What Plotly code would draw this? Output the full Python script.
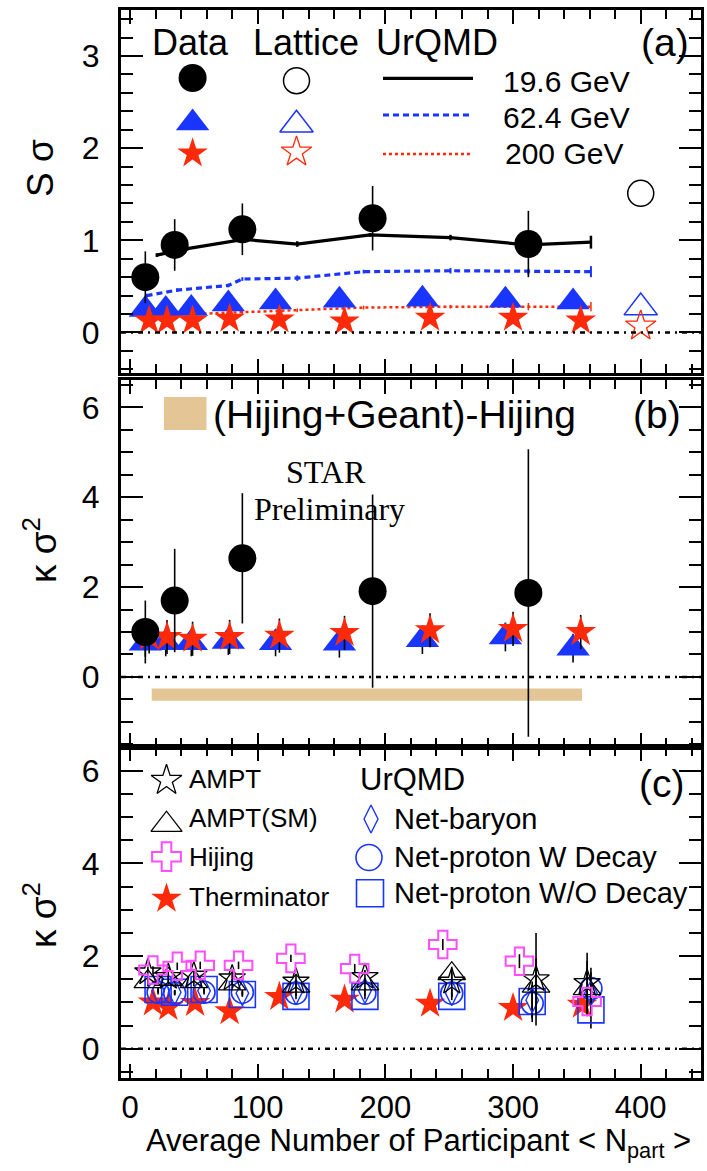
import plotly.graph_objects as go

# ======================= DATA =======================
# ---- Panel (a): S*sigma vs <Npart> ----
npart_196 = [12, 35, 88, 190, 312]
ssig_196 = [0.60, 0.95, 1.12, 1.24, 0.96]
ssig_196_err = [0.28, 0.28, 0.28, 0.35, 0.36]

npart_624 = [12, 28, 48, 77, 114, 164, 229, 294, 347]
ssig_624 = [0.25, 0.25, 0.26, 0.31, 0.33, 0.35, 0.36, 0.35, 0.33]
ssig_624_err = [0.04, 0.04, 0.04, 0.04, 0.04, 0.05, 0.05, 0.05, 0.05]

npart_200 = [15, 29, 49, 78, 117, 168, 235, 300, 353]
ssig_200 = [0.13, 0.13, 0.13, 0.15, 0.14, 0.12, 0.16, 0.16, 0.13]
ssig_200_err = [0.03, 0.03, 0.03, 0.03, 0.03, 0.04, 0.04, 0.04, 0.04]

lattice_npart = [400]
lattice_ssig_196 = [1.51]
lattice_ssig_624 = [0.27]
lattice_ssig_200 = [0.07]

urqmd_196_x = [21, 45, 89, 131, 188, 251, 312, 361]
urqmd_196_y = [0.84, 0.91, 1.01, 0.96, 1.06, 1.03, 0.95, 0.98]
urqmd_196_err = [0.02, 0.02, 0.02, 0.03, 0.02, 0.03, 0.02, 0.07]
urqmd_624_x = [13, 37, 77, 88, 131, 183, 251, 312, 361]
urqmd_624_y = [0.40, 0.46, 0.51, 0.58, 0.59, 0.66, 0.67, 0.66, 0.66]
urqmd_624_err = [0.02, 0.02, 0.02, 0.02, 0.03, 0.02, 0.03, 0.03, 0.06]
urqmd_200_x = [20, 49, 88, 131, 183, 251, 312, 361]
urqmd_200_y = [0.20, 0.20, 0.22, 0.24, 0.27, 0.28, 0.28, 0.28]
urqmd_200_err = [0.02, 0.02, 0.02, 0.02, 0.02, 0.02, 0.04, 0.05]

# ---- Panel (b): kappa*sigma^2 data ----
ksig_196 = [1.00, 1.70, 2.64, 1.91, 1.87]
ksig_196_err = [0.70, 1.15, 1.45, 2.15, 3.20]
ksig_624 = [0.75, 0.76, 0.76, 0.79, 0.76, 0.75, 0.83, 0.89, 0.64]
ksig_624_err = [0.30, 0.30, 0.30, 0.30, 0.30, 0.32, 0.32, 0.32, 0.32]
ksig_200 = [0.90, 0.89, 0.85, 0.89, 0.92, 0.98, 1.04, 1.07, 1.00]
ksig_200_err = [0.38, 0.38, 0.38, 0.38, 0.38, 0.38, 0.38, 0.38, 0.38]

geant_band_x = [17, 354]
geant_band_lo = [-0.53, -0.53]
geant_band_hi = [-0.26, -0.26]

# ---- Panel (c): models kappa*sigma^2 ----
therm_x = [18, 30, 51, 78, 117, 168, 235, 300, 354]
therm_y = [1.00, 0.90, 0.99, 0.81, 1.12, 1.06, 0.97, 0.88, 0.95]

hijing_x = [18, 37, 55, 85, 126, 176, 245, 305, 358]
hijing_y = [1.70, 1.78, 1.80, 1.80, 1.95, 1.73, 2.25, 1.89, 1.02]
hijing_err = [0.08, 0.08, 0.08, 0.08, 0.08, 0.10, 0.12, 0.15, 0.15]

ampt_x = [14, 30, 50, 80, 130, 184, 252, 318, 358]
ampt_y = [1.65, 1.55, 1.58, 1.52, 1.45, 1.55, 1.45, 1.50, 1.42]
ampt_err = [0.12, 0.12, 0.12, 0.12, 0.15, 0.15, 0.20, 1.00, 0.65]

amptsm_x = [14, 30, 50, 80, 130, 184, 252, 318, 358]
amptsm_y = [1.45, 1.50, 1.45, 1.40, 1.35, 1.40, 1.62, 1.35, 1.30]
amptsm_err = [0.10, 0.10, 0.10, 0.10, 0.12, 0.12, 0.15, 0.60, 0.60]

urqmd_c_x = [22, 35, 58, 88, 130, 184, 252, 315, 361]
netp_wo_y = [1.28, 1.22, 1.28, 1.17, 1.13, 1.13, 1.13, 1.02, 0.84]
netp_wo_err = [0.05, 0.05, 0.05, 0.05, 0.06, 0.06, 0.08, 0.35, 0.40]
netp_w_y = [1.22, 1.20, 1.22, 1.22, 1.20, 1.20, 1.20, 0.98, 1.30]
netp_w_err = [0.05, 0.05, 0.05, 0.05, 0.06, 0.06, 0.08, 0.40, 0.45]
netb_y = [1.25, 1.22, 1.25, 1.20, 1.22, 1.25, 1.20, 1.05, 1.20]
netb_err = [0.05, 0.05, 0.05, 0.05, 0.06, 0.06, 0.08, 0.40, 0.45]

xtick_vals = [0, 100, 200, 300, 400]

# ======================= STYLE =======================
BLACK = "#000000"
BLUE = "#1a35ff"
RED = "#ff2a0a"
MAGENTA = "#ff4dff"
TAN = "#e3c596"
FONT = "Liberation Sans, Arial, sans-serif"
SERIF = "Liberation Serif, Times New Roman, serif"

W, H = 707, 1171
ML, MR, MT, MB = 121, 6, 10, 93
PW, PH = W - ML - MR, H - MT - MB

dom_a = [0.6601, 1.0]
dom_b = [0.3099, 0.6536]
dom_c = [0.0, 0.3099]
xrange_all = [-7.05, 447.2]

fig = go.Figure()


def err(vals, color=BLACK, thick=1.6):
    return dict(type="data", array=vals, visible=True, thickness=thick, width=0, color=color)


# ---------- Panel (a) ----------
ax_a = dict(xaxis="x3", yaxis="y3")
fig.add_trace(go.Scatter(x=urqmd_200_x, y=urqmd_200_y, mode="lines",
                         line=dict(color=RED, width=2.5, dash="dot"),
                         error_y=err(urqmd_200_err, RED, 1.5), **ax_a))
fig.add_trace(go.Scatter(x=urqmd_624_x, y=urqmd_624_y, mode="lines",
                         line=dict(color=BLUE, width=3.2, dash="6px,4px"),
                         error_y=err(urqmd_624_err, BLUE, 2), **ax_a))
fig.add_trace(go.Scatter(x=urqmd_196_x, y=urqmd_196_y, mode="lines",
                         line=dict(color=BLACK, width=3.2),
                         error_y=err(urqmd_196_err, BLACK, 2.5), **ax_a))
fig.add_trace(go.Scatter(x=npart_624, y=ssig_624, mode="markers",
                         marker=dict(symbol="triangle-up", size=29, color=BLUE),
                         error_y=err(ssig_624_err), **ax_a))
fig.add_trace(go.Scatter(x=npart_200, y=ssig_200, mode="markers",
                         marker=dict(symbol="star", size=23, color=RED),
                         error_y=err(ssig_200_err), **ax_a))
fig.add_trace(go.Scatter(x=npart_196, y=ssig_196, mode="markers",
                         marker=dict(symbol="circle", size=28, color=BLACK),
                         error_y=err(ssig_196_err), **ax_a))
fig.add_trace(go.Scatter(x=lattice_npart, y=lattice_ssig_196, mode="markers",
                         marker=dict(symbol="circle-open", size=26, color=BLACK, line=dict(width=1.5)), **ax_a))
fig.add_trace(go.Scatter(x=lattice_npart, y=lattice_ssig_624, mode="markers",
                         marker=dict(symbol="triangle-up-open", size=29, color=BLUE, line=dict(width=1.5)), **ax_a))
fig.add_trace(go.Scatter(x=lattice_npart, y=lattice_ssig_200, mode="markers",
                         marker=dict(symbol="star-open", size=23, color=RED, line=dict(width=1.3)), **ax_a))

# ---------- Panel (b) ----------
ax_b = dict(xaxis="x2", yaxis="y2")
fig.add_trace(go.Scatter(x=geant_band_x, y=geant_band_lo, mode="lines",
                         line=dict(width=0, color=TAN), **ax_b))
fig.add_trace(go.Scatter(x=geant_band_x, y=geant_band_hi, mode="lines", fill="tonexty",
                         fillcolor=TAN, line=dict(width=0, color=TAN), **ax_b))
fig.add_trace(go.Scatter(x=npart_624, y=ksig_624, mode="markers",
                         marker=dict(symbol="triangle-up", size=29, color=BLUE),
                         error_y=err(ksig_624_err), **ax_b))
fig.add_trace(go.Scatter(x=npart_200, y=ksig_200, mode="markers",
                         marker=dict(symbol="star", size=23, color=RED),
                         error_y=err(ksig_200_err), **ax_b))
fig.add_trace(go.Scatter(x=npart_196, y=ksig_196, mode="markers",
                         marker=dict(symbol="circle", size=28, color=BLACK),
                         error_y=err(ksig_196_err), **ax_b))

# ---------- Panel (c) ----------
ax_c = dict(xaxis="x", yaxis="y")
fig.add_trace(go.Scatter(x=therm_x, y=therm_y, mode="markers",
                         marker=dict(symbol="star", size=23, color=RED), **ax_c))
fig.add_trace(go.Scatter(x=urqmd_c_x, y=netp_wo_y, mode="markers",
                         marker=dict(symbol="square-open", size=26, color=BLUE, line=dict(width=1.6)),
                         error_y=err(netp_wo_err), **ax_c))
fig.add_trace(go.Scatter(x=urqmd_c_x, y=netp_w_y, mode="markers",
                         marker=dict(symbol="circle-open", size=22, color=BLUE, line=dict(width=1.6)),
                         error_y=err(netp_w_err), **ax_c))
fig.add_trace(go.Scatter(x=urqmd_c_x, y=netb_y, mode="markers",
                         marker=dict(symbol="diamond-tall-open", size=18, color=BLUE, line=dict(width=1.4)),
                         error_y=err(netb_err), **ax_c))
fig.add_trace(go.Scatter(x=amptsm_x, y=amptsm_y, mode="markers",
                         marker=dict(symbol="triangle-up-open", size=24, color=BLACK, line=dict(width=1.3)),
                         error_y=err(amptsm_err), **ax_c))
fig.add_trace(go.Scatter(x=ampt_x, y=ampt_y, mode="markers",
                         marker=dict(symbol="star-open", size=20, color=BLACK, line=dict(width=1.3)),
                         error_y=err(ampt_err), **ax_c))
fig.add_trace(go.Scatter(x=hijing_x, y=hijing_y, mode="markers",
                         marker=dict(symbol="cross-open", size=23, color=MAGENTA, line=dict(width=2)),
                         error_y=err(hijing_err), **ax_c))

# ---------- zero reference lines ----------
shapes = []
for yref in ["y3", "y2", "y"]:
    shapes.append(dict(type="line", xref="x domain", x0=0, x1=1, yref=yref, y0=0, y1=0,
                       line=dict(color=BLACK, width=2.5, dash="5px,5px,2px,5px"), layer="above"))

# ======================= LEGENDS (layout, figure-pixel coordinates) =======================
key = dict(xaxis="x4", yaxis="y4")
legend_marker_keys = [
    # (x_px, y_px, symbol, size, color, line_width)
    (192.6, 78, "circle", 28, BLACK, 0),
    (296.5, 80.7, "circle-open", 26, BLACK, 1.5),
    (192.6, 123, "triangle-up", 29, BLUE, 0),
    (296.5, 124.7, "triangle-up-open", 29, BLUE, 1.5),
    (192.6, 153.4, "star", 23, RED, 0),
    (296.5, 152, "star-open", 23, RED, 1.3),
    (166.5, 780.4, "star-open", 23, BLACK, 1.3),
    (166.5, 824.7, "triangle-up-open", 27, BLACK, 1.3),
    (166.5, 856.7, "cross-open", 24, MAGENTA, 2),
    (166.5, 898.7, "star", 23, RED, 0),
    (371, 819, "diamond-tall-open", 20, BLUE, 1.4),
    (369, 857.5, "circle-open", 26, BLUE, 1.6),
    (370, 893.3, "square-open", 27, BLUE, 1.6),
]
for (kx, ky, sym, sz, col, lw) in legend_marker_keys:
    mk = dict(symbol=sym, size=sz, color=col)
    if lw:
        mk["line"] = dict(width=lw, color=col)
    fig.add_trace(go.Scatter(x=[kx], y=[ky], mode="markers", marker=mk, **key))

legend_line_keys = [
    (383, 473, 78.3, BLACK, 3.2, "solid"),
    (383, 473, 115, BLUE, 3.2, "6px,4px"),
    (383, 473, 154, RED, 2.5, "dot"),
]
for (x0, x1, ky, col, lw, dash) in legend_line_keys:
    fig.add_trace(go.Scatter(x=[x0, x1], y=[ky, ky], mode="lines",
                             line=dict(color=col, width=lw, dash=dash), **key))

shapes.append(dict(type="rect", xref="x4", yref="y4", x0=164, x1=206.5, y0=397, y1=430,
                   fillcolor=TAN, line=dict(width=0)))

annotations = []


def txt(x, y, s, size, xanchor="center", family=FONT, ref="x4"):
    annotations.append(dict(x=x, y=y, xref=ref, yref=ref.replace("x", "y"), text=s, showarrow=False,
                            xanchor=xanchor, yanchor="middle", borderpad=0,
                            font=dict(size=size, family=family, color=BLACK)))


txt(190, 42, "Data", 36)
txt(306, 42, "Lattice", 36)
txt(437, 42, "UrQMD", 36)
txt(665, 42, "(a)", 39)
txt(502, 81, "19.6 GeV", 30, "left")
txt(502, 117, "62.4 GeV", 30, "left")
txt(504, 153, "200 GeV", 30, "left")

txt(212, 414, "(Hijing+Geant)-Hijing", 39, "left")
txt(657, 414, "(b)", 39)
txt(326, 472, "STAR", 32, family=SERIF)
txt(329, 509, "Preliminary", 32, family=SERIF)

txt(188, 779, "AMPT", 26, "left")
txt(188, 818, "AMPT(SM)", 26, "left")
txt(188, 857, "Hijing", 26, "left")
txt(188, 897, "Therminator", 26, "left")
txt(412, 779, "UrQMD", 31)
txt(393, 819, "Net-baryon", 29, "left")
txt(393, 857, "Net-proton W Decay", 29, "left")
txt(393, 893, "Net-proton W/O Decay", 29, "left")
txt(661, 783, "(c)", 39)


def px2paper(px, py):
    return (px - ML) / PW, (H - MB - py) / PH


for (px, py, s) in [(40, 168, "S σ"), (40, 550, "κ σ<sup>2</sup>"), (40, 915, "κ σ<sup>2</sup>")]:
    xx, yy = px2paper(px, py)
    annotations.append(dict(x=xx, y=yy, xref="paper", yref="paper", text=s, showarrow=False,
                            textangle=-90, xanchor="center", yanchor="middle",
                            font=dict(size=37, family=FONT, color=BLACK)))

xx, yy = px2paper(418, 1143)
annotations.append(dict(x=xx, y=yy, xref="paper", yref="paper",
                        text="Average Number of Participant &lt; N<sub>part</sub> &gt;",
                        showarrow=False, xanchor="center", yanchor="middle", borderpad=0,
                        font=dict(size=31, family=FONT, color=BLACK)))

# ======================= AXES =======================
def xax(anchor, show):
    return dict(domain=[0, 1], range=xrange_all, anchor=anchor, showline=True, linewidth=3,
                linecolor=BLACK, mirror="allticks", ticks="inside", ticklen=14, tickwidth=2,
                tickcolor=BLACK, tickvals=xtick_vals, showgrid=False, zeroline=False,
                minor=dict(dtick=20, tick0=0, ticklen=9, tickwidth=2, ticks="inside",
                           tickcolor=BLACK, showgrid=False),
                showticklabels=show, tickfont=dict(size=31, family=FONT, color=BLACK),
                ticklabelstandoff=0, automargin=False)


def yax(anchor, dom, rng, dtick, mdtick):
    return dict(domain=dom, range=rng, anchor=anchor, showline=True, linewidth=3,
                linecolor=BLACK, mirror="allticks", ticks="inside", ticklen=22, tickwidth=2,
                tickcolor=BLACK, dtick=dtick, tick0=0, showgrid=False, zeroline=False,
                minor=dict(dtick=mdtick, tick0=0, ticklen=12, tickwidth=2, ticks="inside",
                           tickcolor=BLACK, showgrid=False),
                tickfont=dict(size=32, family=FONT, color=BLACK), ticklabelstandoff=12,
                automargin=False)


fig.update_layout(
    width=W, height=H, margin=dict(l=ML, r=MR, t=MT, b=MB, autoexpand=False),
    paper_bgcolor="white", plot_bgcolor="rgba(0,0,0,0)", showlegend=False,
    font=dict(family=FONT, color=BLACK), hovermode=False,
    xaxis=xax("y", True),
    xaxis2=xax("y2", False),
    xaxis3=xax("y3", False),
    yaxis=yax("x", dom_c, [-0.63, 6.51], 2, 0.5),
    yaxis2=yax("x2", dom_b, [-1.56, 6.61], 2, 0.5),
    yaxis3=yax("x3", dom_a, [-0.44, 3.5], 1, 0.2),
    xaxis4=dict(domain=[0, 1], range=[ML, W - MR], anchor="y4", visible=False, fixedrange=True,
                automargin=False),
    yaxis4=dict(domain=[0, 1], range=[H - MB, MT], anchor="x4", visible=False, fixedrange=True,
                automargin=False),
    shapes=shapes, annotations=annotations,
)

fig.write_html("out.html",
               config={"displayModeBar": False, "staticPlot": True},
               post_script="document.body.style.margin='0px';"
                           "document.documentElement.style.overflow='hidden';"
                           "document.body.style.overflow='hidden';")
